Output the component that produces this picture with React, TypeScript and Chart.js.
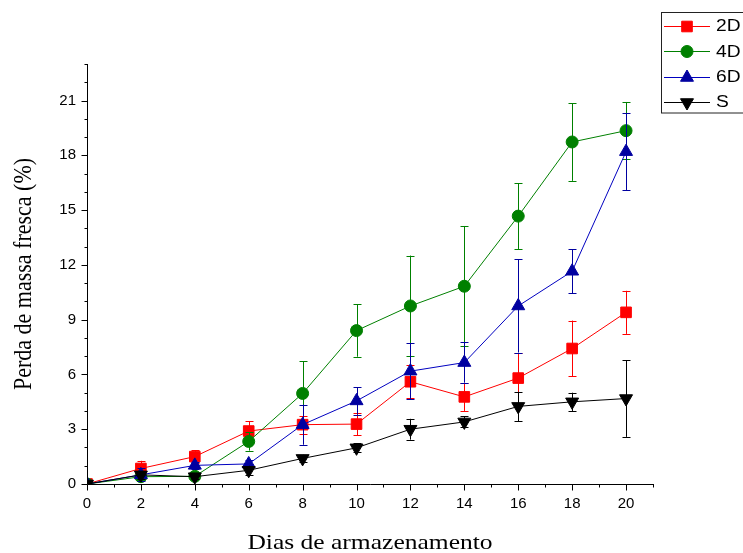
import React, { useEffect, useRef } from "react";
import { Chart, registerables } from "chart.js";
import { drawPoint } from "chart.js/helpers";

Chart.register(...registerables);

// ---- data ----
const days = [0, 2, 4, 6, 8, 10, 12, 14, 16, 18, 20];
const seriesNames = ["2D", "4D", "6D", "S"];
const values2D = [0, 0.85, 1.5, 2.9, 3.25, 3.28, 5.6, 4.77, 5.8, 7.42, 9.4];
const errors2D = [0, 0.42, 0.35, 0.53, 0.5, 0.62, 0.9, 0.77, 1.38, 1.53, 1.18];
const values4D = [0, 0.4, 0.42, 2.33, 4.96, 8.4, 9.75, 10.83, 14.67, 18.73, 19.35];
const errors4D = [0, 0.15, 0.15, 0.5, 1.75, 1.43, 2.76, 3.3, 1.8, 2.13, 1.57];
const values6D = [0, 0.5, 1.02, 1.1, 3.25, 4.55, 6.18, 6.65, 9.75, 11.65, 18.2];
const errors6D = [0, 0.35, 0.2, 0.2, 1.1, 0.75, 1.53, 1.1, 2.55, 1.2, 2.1];
const valuesS = [0, 0.5, 0.4, 0.75, 1.4, 1.98, 3.0, 3.4, 4.25, 4.5, 4.68];
const errorsS = [0, 0.2, 0.1, 0.25, 0.2, 0.25, 0.57, 0.3, 0.8, 0.5, 2.1];
const yTickLabels = [0, 3, 6, 9, 12, 15, 18, 21];
const xTickLabels = [0, 2, 4, 6, 8, 10, 12, 14, 16, 18, 20];
const xTitle = "Dias de armazenamento";
const yTitle = "Perda de massa fresca (%)";

const X_MAX = 21;
const Y_MAX = 23;

const allValues = [values2D, values4D, values6D, valuesS];
const allErrors = [errors2D, errors4D, errors6D, errorsS];
const colors = ["#FF0000", "#008000", "#0000A0", "#000000"];
const lineColors = ["#FF0000", "#008000", "#0000C0", "#000000"];
const styles: any[] = [
  { pointStyle: "rect", radius: 7.5, rotation: 0 },
  { pointStyle: "circle", radius: 6, rotation: 0 },
  { pointStyle: "triangle", radius: 7.5, rotation: 0 },
  { pointStyle: "triangle", radius: 7.5, rotation: 180 },
];
const drawOrder = [3, 2, 1, 0];

const sansFont = "'Liberation Sans', Arial, sans-serif";
const serifFont = "'Liberation Serif', 'Times New Roman', serif";

const customPlugin = {
  id: "custom",
  beforeDatasetDraw(chart: any, args: any) {
    const i = args.index;
    const xs = chart.scales.x;
    const ys = chart.scales.y;
    const ctx = chart.ctx;
    const errs = allErrors[i];
    const vals = allValues[i];
    ctx.save();
    ctx.strokeStyle = colors[i];
    ctx.lineWidth = 1;
    for (let k = 0; k < days.length; k++) {
      const e = errs[k];
      if (!e) continue;
      const x = Math.round(xs.getPixelForValue(days[k])) + 0.5;
      const y1 = ys.getPixelForValue(vals[k] + e);
      const y2 = ys.getPixelForValue(vals[k] - e);
      ctx.beginPath();
      ctx.moveTo(x, y1);
      ctx.lineTo(x, y2);
      ctx.moveTo(x - 4, Math.round(y1) + 0.5);
      ctx.lineTo(x + 4, Math.round(y1) + 0.5);
      ctx.moveTo(x - 4, Math.round(y2) + 0.5);
      ctx.lineTo(x + 4, Math.round(y2) + 0.5);
      ctx.stroke();
    }
    ctx.restore();
  },
  afterDraw(chart: any) {
    const ctx = chart.ctx;
    const xs = chart.scales.x;
    const ys = chart.scales.y;
    const area = chart.chartArea;
    ctx.save();
    ctx.strokeStyle = "#000";
    ctx.lineWidth = 1;
    const ax = Math.round(area.left) + 0.5;
    const ay = Math.round(area.bottom) + 0.5;
    // axes
    ctx.beginPath();
    ctx.moveTo(ax, Math.round(area.top));
    ctx.lineTo(ax, ay);
    ctx.lineTo(Math.round(area.right) + 1, ay);
    ctx.stroke();
    // y ticks
    ctx.beginPath();
    for (let v = 0; v <= Y_MAX; v++) {
      const y = Math.round(ys.getPixelForValue(v)) + 0.5;
      const len = v % 3 === 0 ? 6 : 3;
      ctx.moveTo(ax, y);
      ctx.lineTo(ax - len, y);
    }
    // x ticks
    for (let v = 0; v <= X_MAX; v++) {
      const x = Math.round(xs.getPixelForValue(v)) + 0.5;
      const len = v % 2 === 0 ? 6 : 3;
      ctx.moveTo(x, ay);
      ctx.lineTo(x, ay + len);
    }
    ctx.stroke();

    // titles
    ctx.fillStyle = "#000";
    ctx.font = "22px " + serifFont;
    ctx.textAlign = "center";
    ctx.textBaseline = "middle";
    ctx.save();
    ctx.translate((area.left + area.right) / 2, 543);
    ctx.scale(1.16, 1);
    ctx.fillText(xTitle, 0, 0);
    ctx.restore();
    ctx.save();
    ctx.translate(25, (area.top + area.bottom) / 2);
    ctx.rotate(-Math.PI / 2);
    ctx.scale(1, 1.12);
    ctx.fillText(yTitle, 0, 0);
    ctx.restore();

    // legend
    ctx.strokeStyle = "#222";
    ctx.lineWidth = 1;
    ctx.strokeRect(661.5, 12.5, 110, 100.5);
    ctx.font = "16px " + sansFont;
    ctx.textAlign = "left";
    ctx.textBaseline = "middle";
    for (let i = 0; i < seriesNames.length; i++) {
      const ry = 26 + i * 25.3;
      ctx.strokeStyle = lineColors[i];
      ctx.beginPath();
      ctx.moveTo(664, Math.round(ry) + 0.5);
      ctx.lineTo(710, Math.round(ry) + 0.5);
      ctx.stroke();
      ctx.fillStyle = colors[i];
      ctx.strokeStyle = colors[i];
      drawPoint(ctx, { ...styles[i], borderWidth: 1 }, 687, Math.round(ry) + 0.5);
      ctx.fillStyle = "#000";
      ctx.save();
      ctx.translate(716, ry + 1);
      ctx.scale(1.2, 1);
      ctx.fillText(seriesNames[i], 0, 0);
      ctx.restore();
    }
    ctx.restore();
  },
};

export default function App() {
  const ref = useRef<HTMLCanvasElement | null>(null);
  useEffect(() => {
    if (!ref.current) return;
    const datasets = seriesNames.map((name, i) => ({
      label: name,
      data: days.map((d, k) => ({ x: d, y: allValues[i][k] })),
      borderColor: lineColors[i],
      backgroundColor: colors[i],
      pointBackgroundColor: colors[i],
      pointBorderColor: colors[i],
      borderWidth: 1,
      pointBorderWidth: 1,
      pointStyle: styles[i].pointStyle,
      pointRadius: styles[i].radius,
      pointRotation: styles[i].rotation,
      tension: 0,
      fill: false,
      clip: 0,
      order: drawOrder[i],
    }));
    const chart = new Chart(ref.current, {
      type: "line",
      data: { datasets },
      options: {
        animation: false,
        responsive: false,
        devicePixelRatio: 1,
        layout: { padding: { top: 64, right: 90, left: 0, bottom: 0 } },
        plugins: { legend: { display: false }, tooltip: { enabled: false } },
        scales: {
          x: {
            type: "linear",
            min: 0,
            max: X_MAX,
            grid: { display: false, drawTicks: false },
            border: { display: false },
            afterFit: (s: any) => {
              s.height = 69;
            },
            afterBuildTicks: (s: any) => {
              s.ticks = xTickLabels.map((v) => ({ value: v }));
            },
            ticks: {
              padding: 11,
              color: "#000",
              font: { family: sansFont, size: 15 },
              maxRotation: 0,
              autoSkip: false,
            },
          },
          y: {
            type: "linear",
            min: 0,
            max: Y_MAX,
            grid: { display: false, drawTicks: false },
            border: { display: false },
            afterFit: (s: any) => {
              s.width = 87;
            },
            afterBuildTicks: (s: any) => {
              s.ticks = yTickLabels.map((v) => ({ value: v }));
            },
            ticks: {
              padding: 11,
              color: "#000",
              font: { family: sansFont, size: 15 },
              autoSkip: false,
            },
          },
        },
      },
      plugins: [customPlugin],
    });
    return () => chart.destroy();
  }, []);
  return (
    <div style={{ position: "absolute", left: 0, top: 0, width: 743, height: 553, background: "#fff" }}>
      <canvas ref={ref} width={743} height={553} style={{ display: "block", width: 743, height: 553 }} />
    </div>
  );
}
